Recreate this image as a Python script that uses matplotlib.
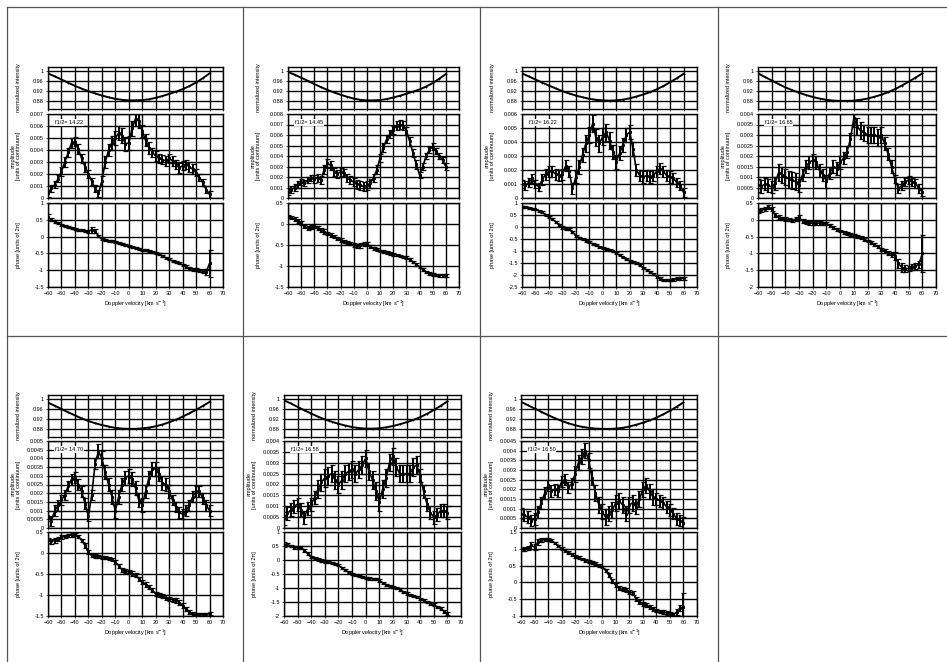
import matplotlib
matplotlib.use("Agg")
import matplotlib.pyplot as plt
from matplotlib.lines import Line2D
from matplotlib.ticker import FuncFormatter, MultipleLocator

W, H = 947, 662
plt.rcParams["font.family"] = ["Liberation Sans", "DejaVu Sans"]

# Doppler velocity grid (km/s)
VELOCITY = [-60, -57.5, -55, -52.5, -50, -47.5, -45, -42.5, -40, -37.5, -35, -32.5,
            -30, -27.5, -25, -22.5, -20, -17.5, -15, -12.5, -10, -7.5, -5, -2.5, 0,
            2.5, 5, 7.5, 10, 12.5, 15, 17.5, 20, 22.5, 25, 27.5, 30, 32.5, 35, 37.5,
            40, 42.5, 45, 47.5, 50, 52.5, 55, 57.5, 60]
VEL_PROFILE = [-60, -55, -50, -45, -40, -35, -30, -25, -20, -15, -10, -5, 0,
               5, 10, 15, 20, 25, 30, 35, 40, 45, 50, 55, 60]

LABELS = ["f1/2= 14.22", "f1/2= 14.45", "f1/2= 16.22", "f1/2= 16.65",
          "f1/2= 14.70", "f1/2= 16.58", "f1/2= 16.50"]

# normalized intensity profiles
INT_1 = [0.990, 0.978, 0.966, 0.953, 0.941, 0.930, 0.920, 0.911, 0.903, 0.896, 0.890, 0.886, 0.884,
         0.884, 0.885, 0.888, 0.894, 0.901, 0.909, 0.918, 0.928, 0.940, 0.954, 0.971, 0.990]
INT_2 = [0.995, 0.985, 0.973, 0.961, 0.948, 0.936, 0.925, 0.915, 0.906, 0.898, 0.891, 0.886, 0.884,
         0.884, 0.885, 0.889, 0.895, 0.902, 0.910, 0.918, 0.927, 0.938, 0.952, 0.969, 0.987]
INT_3 = [0.990, 0.978, 0.966, 0.954, 0.942, 0.931, 0.920, 0.911, 0.903, 0.896, 0.890, 0.886, 0.884,
         0.883, 0.884, 0.887, 0.892, 0.899, 0.907, 0.916, 0.927, 0.940, 0.955, 0.971, 0.988]
INT_4 = [0.990, 0.976, 0.962, 0.948, 0.935, 0.924, 0.914, 0.905, 0.897, 0.891, 0.886, 0.883, 0.882,
         0.882, 0.883, 0.886, 0.891, 0.898, 0.906, 0.916, 0.928, 0.942, 0.957, 0.973, 0.990]
INT_5 = [0.985, 0.973, 0.960, 0.947, 0.935, 0.923, 0.913, 0.904, 0.897, 0.891, 0.886, 0.883, 0.882,
         0.882, 0.884, 0.887, 0.892, 0.899, 0.908, 0.918, 0.930, 0.943, 0.957, 0.972, 0.988]
INT_6 = [0.994, 0.982, 0.968, 0.955, 0.942, 0.930, 0.919, 0.910, 0.902, 0.895, 0.889, 0.885, 0.883,
         0.883, 0.884, 0.888, 0.893, 0.900, 0.908, 0.917, 0.928, 0.941, 0.956, 0.972, 0.990]
INT_7 = [0.988, 0.975, 0.962, 0.949, 0.936, 0.924, 0.913, 0.904, 0.896, 0.890, 0.886, 0.883, 0.882,
         0.882, 0.883, 0.886, 0.891, 0.898, 0.906, 0.915, 0.926, 0.939, 0.953, 0.969, 0.986]

# amplitudes, units of 1e-4 continuum
AMP_1 = [4, 8, 11, 16, 22, 30, 38, 46, 47, 41, 33, 26, 20, 14, 8, 4, 14, 30, 40, 46, 50, 54, 52, 45, 46,
         58, 66, 64, 56, 48, 42, 38, 35, 33, 32, 31, 33, 31, 28, 25, 27, 28, 26, 24, 21, 17, 13, 7, 3]
AMP_2 = [6, 8, 10, 13, 15, 14, 17, 19, 18, 19, 17, 27, 33, 31, 25, 23, 25, 24, 19, 17, 15, 13, 12, 11, 12,
         14, 19, 27, 38, 48, 56, 61, 65, 69, 70, 69, 64, 54, 43, 32, 22, 30, 40, 46, 49, 45, 40, 36, 30]
AMP_3 = [10, 9, 11, 14, 10, 8, 13, 17, 19, 19, 17, 16, 17, 23, 19, 7, 15, 22, 31, 39, 45, 53, 43, 39, 44,
         47, 41, 33, 26, 32, 38, 45, 47, 35, 20, 16, 15, 16, 15, 16, 19, 21, 19, 16, 15, 14, 11, 9, 4]
AMP_4 = [6.0, 5.6, 6.6, 6.0, 5.3, 7.0, 12, 11, 10, 9.0, 8.5, 7.7, 6.0, 11, 15, 17, 18, 17, 13, 11, 8.0,
         12, 15, 14, 17, 19, 22, 28, 38, 34, 32, 31, 30, 30, 30, 29, 30, 26, 21, 15, 9.0, 4.5, 6.0,
         7.7, 8.5, 7.7, 7.0, 4.5, 3.0]
AMP_5 = [7, 4, 10, 13, 16, 19, 24, 28, 29, 25, 21, 14, 7, 19, 37, 44, 40, 32, 25, 18, 10, 18, 25, 29, 30,
         28, 23, 16, 13, 21, 29, 34, 34, 31, 26, 25, 21, 16, 12, 9, 8, 10, 13, 18, 21, 21, 17, 13, 10]
AMP_6 = [4.4, 6.7, 8.3, 10, 11, 8.3, 5, 9, 11, 14, 18, 21, 23, 24, 25, 22, 20, 22, 25, 26, 27, 25, 27,
         29, 32, 26, 22, 17, 12, 18, 23, 30, 33, 28, 25, 25, 25, 25, 28, 29, 24, 17, 11, 7, 5, 6, 8, 8, 7]
AMP_7 = [7.5, 6.6, 5.6, 3.8, 4.7, 8.4, 13, 18, 22, 19, 20, 19, 24, 25, 21, 23, 28, 34, 37, 40, 35, 26,
         18, 12, 8.4, 5.6, 7.5, 9.4, 13, 14, 12, 7.5, 12, 13, 11, 15, 20, 22, 19, 16, 15, 14, 13, 11,
         9.4, 7.5, 4.7, 3.8, 2.8]

AMP_ERR_1 = [3, 3, 3, 3, 4, 4, 4, 4, 4, 4, 4, 4, 3, 3, 3, 3, 4, 5, 5, 6, 6, 6, 6, 6, 6,
             6, 6, 6, 5, 5, 5, 4, 4, 4, 4, 4, 4, 4, 4, 4, 4, 4, 4, 4, 3, 3, 3, 3, 3]
AMP_ERR_2 = [3, 3, 3, 3, 3, 3, 3, 3, 4, 4, 4, 4, 4, 4, 4, 4, 4, 4, 4, 4, 4, 4, 4, 4, 4,
             4, 4, 4, 4, 4, 4, 4, 4, 4, 4, 4, 4, 4, 4, 4, 3, 3, 3, 3, 3, 3, 3, 3, 3]
AMP_ERR_3 = [3, 3, 3, 3, 3, 3, 4, 4, 4, 4, 4, 4, 4, 4, 4, 4, 4, 5, 5, 6, 6, 6, 6, 6, 6,
             6, 6, 5, 5, 5, 5, 5, 5, 5, 4, 4, 4, 4, 4, 4, 4, 4, 4, 4, 4, 4, 3, 3, 3]
AMP_ERR_4 = [3, 3, 3, 3, 3, 3, 4, 4, 4, 4, 4, 4, 3, 3, 3, 3, 3, 3, 3, 3, 3, 3, 3, 3, 3,
             3, 3, 3, 4, 4, 4, 4, 4, 4, 4, 4, 4, 3, 3, 3, 2, 2, 2, 2, 2, 2, 2, 2, 2]
AMP_ERR_5 = [3, 3, 3, 3, 3, 3, 3, 3, 3, 3, 3, 3, 3, 3, 3, 4, 4, 4, 4, 4, 4, 4, 4, 4, 4,
             4, 4, 4, 4, 4, 4, 4, 4, 4, 4, 4, 4, 3, 3, 3, 3, 3, 3, 3, 3, 3, 3, 3, 3]
AMP_ERR_6 = [3, 3, 3, 3, 3, 3, 3, 3, 3, 3, 4, 4, 4, 4, 4, 4, 4, 4, 4, 4, 4, 4, 4, 4, 4,
             4, 4, 4, 4, 4, 4, 4, 4, 4, 4, 4, 4, 4, 4, 4, 3, 3, 3, 3, 3, 3, 3, 3, 3]
AMP_ERR_7 = [3, 3, 3, 3, 3, 3, 3, 3, 3, 3, 3, 3, 3, 3, 3, 3, 4, 4, 4, 4, 4, 4, 4, 4, 4,
             4, 4, 4, 4, 4, 4, 4, 4, 4, 4, 4, 4, 4, 4, 4, 3, 3, 3, 3, 3, 3, 3, 3, 3]

# phases, units of 0.01 x 2pi
PHA_1 = [58, 50, 44, 40, 35, 32, 29, 26, 23, 21, 19, 17, 16, 20, 16, 2, -8, -11, -13, -14, -16, -18,
         -21, -25, -29, -32, -35, -37, -39, -41, -43, -45, -48, -53, -58, -63, -68, -72, -76, -80,
         -84, -90, -95, -97, -98, -100, -103, -105, -80]
PHA_2 = [18, 15, 12, 7, 2, -6, -10, -7, -4, -9, -14, -18, -22, -26, -30, -34, -38, -41, -44, -47, -50,
         -52, -51, -48, -48, -53, -58, -61, -64, -66, -68, -70, -72, -74, -76, -78, -80, -84, -90,
         -96, -102, -108, -114, -118, -120, -121, -122, -122, -122]
PHA_3 = [85, 83, 80, 77, 73, 68, 61, 51, 40, 32, 22, 10, -2, -6, -8, -20, -36, -44, -50, -57, -64, -70,
         -75, -82, -88, -92, -96, -102, -109, -118, -127, -134, -141, -146, -151, -160, -169, -178,
         -187, -196, -206, -214, -220, -222, -222, -219, -215, -214, -213]
PHA_4 = [27, 28, 32, 37, 32, 14, 7, 4, 2, 0, -3, 2, 7, -3, -8, -10, -10, -10, -10, -11, -11, -17, -23,
         -28, -33, -37, -40, -43, -46, -50, -53, -58, -63, -68, -73, -80, -88, -93, -98, -103, -108,
         -130, -142, -145, -145, -140, -137, -133, -100]
PHA_5 = [30, 28, 30, 34, 38, 40, 42, 43, 44, 40, 30, 18, 2, -6, -7, -8, -10, -11, -13, -16, -21, -30,
         -40, -43, -45, -49, -53, -61, -69, -75, -81, -89, -97, -100, -102, -106, -109, -111, -113,
         -118, -125, -133, -140, -145, -147, -147, -147, -146, -144]
PHA_6 = [55, 56, 50, 46, 43, 44, 35, 22, 11, 6, 2, -2, -5, -8, -10, -13, -19, -28, -37, -44, -49, -53,
         -57, -61, -64, -66, -67, -69, -73, -81, -88, -92, -96, -100, -105, -113, -120, -125, -129,
         -133, -138, -144, -150, -156, -160, -168, -174, -183, -192]
PHA_7 = [98, 100, 102, 110, 105, 120, 125, 128, 128, 125, 117, 108, 100, 95, 90, 84, 78, 74, 70, 66,
         63, 60, 56, 51, 46, 36, 21, 4, -9, -17, -21, -24, -29, -31, -49, -59, -63, -68, -73, -78,
         -83, -86, -88, -91, -93, -96, -88, -76, -73]

PHA_ERR_1 = [10, 5, 4, 3, 3, 3, 3, 3, 3, 3, 3, 3, 4, 8, 6, 3, 3, 3, 3, 3, 3, 3, 3, 3, 3,
             3, 3, 3, 3, 3, 3, 3, 3, 3, 3, 3, 3, 3, 3, 3, 3, 4, 4, 4, 4, 5, 6, 10, 40]
PHA_ERR_2 = [4, 4, 4, 4, 4, 4, 5, 5, 5, 5, 5, 5, 4, 4, 4, 4, 4, 4, 4, 4, 5, 5, 5, 5, 5,
             4, 4, 3, 3, 3, 3, 3, 3, 3, 3, 3, 3, 3, 3, 3, 3, 3, 3, 3, 3, 3, 3, 3, 3]
PHA_ERR_3 = [4, 4, 4, 4, 4, 4, 4, 4, 4, 4, 4, 4, 5, 5, 5, 4, 4, 4, 4, 4, 4, 4, 4, 4, 4,
             4, 4, 4, 4, 4, 4, 4, 4, 4, 4, 4, 4, 5, 5, 5, 5, 5, 5, 5, 5, 5, 5, 6, 6]
PHA_ERR_4 = [6, 6, 6, 6, 6, 6, 6, 5, 5, 5, 5, 6, 8, 6, 5, 5, 5, 5, 5, 5, 5, 5, 4, 4, 4,
             4, 4, 4, 4, 4, 4, 4, 4, 4, 4, 4, 4, 5, 6, 8, 12, 12, 12, 10, 8, 8, 8, 10, 55]
PHA_ERR_5 = [6, 6, 5, 5, 5, 4, 4, 4, 4, 4, 4, 5, 5, 4, 4, 4, 4, 4, 4, 4, 4, 5, 5, 5, 5,
             5, 5, 5, 5, 5, 5, 5, 5, 5, 5, 5, 5, 5, 5, 5, 5, 5, 5, 4, 4, 4, 4, 4, 4]
PHA_ERR_6 = [8, 6, 5, 5, 5, 6, 5, 5, 4, 4, 4, 4, 4, 4, 4, 4, 4, 4, 4, 4, 4, 4, 4, 4, 4,
             4, 4, 4, 4, 4, 4, 4, 4, 4, 4, 4, 4, 4, 4, 4, 4, 5, 5, 5, 5, 5, 6, 6, 6]
PHA_ERR_7 = [5, 6, 7, 10, 8, 8, 6, 5, 5, 4, 4, 4, 4, 4, 4, 4, 4, 4, 4, 4, 4, 4, 4, 4, 4,
             5, 6, 6, 6, 6, 6, 6, 6, 6, 6, 6, 6, 6, 6, 6, 5, 5, 5, 5, 5, 5, 8, 10, 40]

# axis ranges per panel: amplitude (top, step), phase (low, high)
AMP_TOP = [0.007, 0.008, 0.006, 0.004, 0.005, 0.004, 0.0045]
AMP_STEP = [0.001, 0.001, 0.001, 0.0005, 0.0005, 0.0005, 0.0005]
PHA_RANGE = [(-1.5, 1), (-1.5, 0.5), (-2.5, 1), (-2, 0.5), (-1.5, 0.5), (-2, 1), (-1, 1.5)]

INTS = [INT_1, INT_2, INT_3, INT_4, INT_5, INT_6, INT_7]
AMPS = [AMP_1, AMP_2, AMP_3, AMP_4, AMP_5, AMP_6, AMP_7]
AMP_ERRS = [AMP_ERR_1, AMP_ERR_2, AMP_ERR_3, AMP_ERR_4, AMP_ERR_5, AMP_ERR_6, AMP_ERR_7]
PHAS = [PHA_1, PHA_2, PHA_3, PHA_4, PHA_5, PHA_6, PHA_7]
PHA_ERRS = [PHA_ERR_1, PHA_ERR_2, PHA_ERR_3, PHA_ERR_4, PHA_ERR_5, PHA_ERR_6, PHA_ERR_7]

# layout in pixels: (left, right) of each cell's axes, rows (top, bottom) of the 3 panels
X_PIX = [(48, 223), (288, 459), (522, 697), (758, 936), (48, 223), (284, 461), (521, 697)]
ROWS_TOP = [(67, 109), (114, 198), (203, 287)]
ROWS_BOT = [(395, 437), (441, 528), (532, 616)]

FS = 4.0
ERR_KW = dict(color="black", lw=1.2, elinewidth=1.4, capsize=1.8, capthick=0.9,
              marker="s", ms=1.2)


def add_px_axes(fig, x0, x1, y0, y1):
    return fig.add_axes([x0 / W, 1 - y1 / H, (x1 - x0) / W, (y1 - y0) / H])


def style(ax, width_px):
    ax.set_xlim(-60, 70)
    ax.xaxis.set_major_locator(MultipleLocator(10))
    ax.grid(True, color="black", lw=1.0)
    ax.set_axisbelow(True)
    for sp in ax.spines.values():
        sp.set_linewidth(1.0)
    ax.tick_params(direction="out", length=1.5, width=0.5, pad=1.5, labelsize=FS)
    ax.yaxis.set_major_formatter(FuncFormatter(lambda v, p: f"{round(v, 6):g}"))
    ax.yaxis.set_label_coords(-27 / width_px, 0.5)


fig = plt.figure(figsize=(W / 100, H / 100), dpi=100)

# table frame lines
line_kw = dict(color="#555555", lw=0.9, transform=fig.transFigure)
for x in [7, 243, 480, 718]:
    fig.add_artist(Line2D([x / W, x / W], [1 - 7 / H, 0], **line_kw))
fig.add_artist(Line2D([7 / W, 1], [1 - 7 / H, 1 - 7 / H], **line_kw))
fig.add_artist(Line2D([7 / W, 1], [1 - 336 / H, 1 - 336 / H], **line_kw))

for i in range(7):
    x0, x1 = X_PIX[i]
    rows = ROWS_TOP if i < 4 else ROWS_BOT
    wpx = x1 - x0

    # normalized intensity
    ax = add_px_axes(fig, x0, x1, *rows[0])
    ax.plot(VEL_PROFILE, INTS[i], color="black", lw=1.4, marker="+", ms=1.8, mew=0.6)
    ax.set_ylim(0.85, 1.015)
    ax.set_yticks([0.88, 0.92, 0.96, 1.0])
    style(ax, wpx)
    ax.set_xticklabels([])
    ax.set_ylabel("normalized intensity", fontsize=FS, labelpad=0)

    # amplitude
    ax = add_px_axes(fig, x0, x1, *rows[1])
    amp = [a * 1e-4 for a in AMPS[i]]
    aerr = [e * 1e-4 for e in AMP_ERRS[i]]
    ax.errorbar(VELOCITY, amp, yerr=aerr, **ERR_KW)
    ax.set_ylim(0, AMP_TOP[i])
    ax.yaxis.set_major_locator(MultipleLocator(AMP_STEP[i]))
    style(ax, wpx)
    ax.set_xticklabels([])
    ax.set_ylabel("amplitude\n[units of continuum]", fontsize=FS, labelpad=0, linespacing=1.0)
    ax.text(0.04, 0.93, LABELS[i], transform=ax.transAxes, fontsize=FS, va="top", ha="left",
            bbox=dict(facecolor="white", edgecolor="none", pad=0.5))

    # phase
    ax = add_px_axes(fig, x0, x1, *rows[2])
    pha = [p * 0.01 for p in PHAS[i]]
    perr = [e * 0.01 for e in PHA_ERRS[i]]
    ax.errorbar(VELOCITY, pha, yerr=perr, **ERR_KW)
    ax.set_ylim(*PHA_RANGE[i])
    ax.yaxis.set_major_locator(MultipleLocator(0.5))
    style(ax, wpx)
    ax.set_ylabel("phase [units of 2\u03c0]", fontsize=FS, labelpad=0)
    ax.set_xlabel("Doppler velocity [km s$^{-1}$]", fontsize=FS, labelpad=2)

fig.savefig("out.png", dpi=100)
